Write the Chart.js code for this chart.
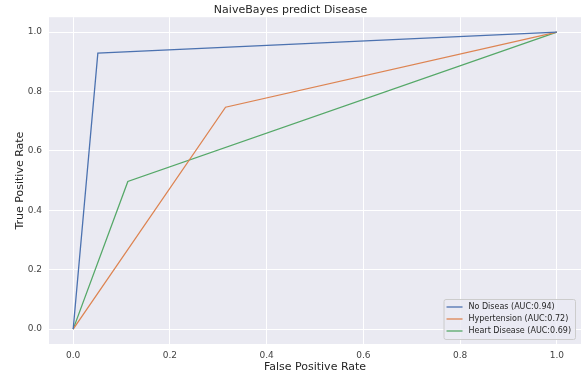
<!DOCTYPE html>
<html>
<head>
<meta charset="utf-8">
<script src="https://cdn.jsdelivr.net/npm/chart.js@4.4.0/dist/chart.umd.min.js"></script>
<style>
    html, body { margin: 0; padding: 0; background: #ffffff; }
    #wrap { width: 581px; height: 378px; }
</style>
</head>
<body>
<div id="wrap"><canvas id="rocChart" width="581" height="378"></canvas></div>
<script>
// ROC curves
const seriesNames = ['No Diseas (AUC:0.94)', 'Hypertension (AUC:0.72)', 'Heart Disease (AUC:0.69)'];
const noDiseaseFpr = [0, 0.051, 1];
const noDiseaseTpr = [0, 0.929, 1];
const hypertensionFpr = [0, 0.315, 1];
const hypertensionTpr = [0, 0.747, 1];
const heartFpr = [0, 0.113, 1];
const heartTpr = [0, 0.497, 1];
const xTicks = [0, 0.2, 0.4, 0.6, 0.8, 1.0];
const yTicks = [0, 0.2, 0.4, 0.6, 0.8, 1.0];

const colors = ['#4c72b0', '#dd8452', '#55a868'];
const font = 'DejaVu Sans';

function toPoints(xs, ys) {
    return xs.map((x, i) => ({ x: x, y: ys[i] }));
}

// grey seaborn panel behind the grid
const panelBg = {
    id: 'panelBg',
    beforeDraw(chart) {
        const a = chart.chartArea;
        const ctx = chart.ctx;
        ctx.save();
        ctx.fillStyle = '#eaeaf2';
        ctx.fillRect(a.left, a.top, a.right - a.left, a.bottom - a.top);
        ctx.restore();
    }
};

// matplotlib style legend in the lower right corner of the plot
const cornerLegend = {
    id: 'cornerLegend',
    afterDraw(chart) {
        const ctx = chart.ctx;
        const a = chart.chartArea;
        ctx.save();
        ctx.font = '8px "' + font + '"';
        const names = chart.data.datasets.map(d => d.label);
        const textW = Math.max(...names.map(n => ctx.measureText(n).width));
        const rowH = 12;
        const w = 2 + 17 + 6 + textW + 4;
        const h = names.length * rowH + 4;
        const x = a.right - 6 - w;
        const y = a.bottom - 5 - h;
        ctx.fillStyle = 'rgba(234,234,242,0.8)';
        ctx.strokeStyle = '#cccccc';
        ctx.lineWidth = 1;
        ctx.beginPath();
        ctx.roundRect(x + 0.5, y + 0.5, w, h, 2);
        ctx.fill();
        ctx.stroke();
        names.forEach((n, i) => {
            const cy = y + 2 + rowH * i + rowH / 2;
            ctx.strokeStyle = chart.data.datasets[i].borderColor;
            ctx.lineWidth = 1.3;
            ctx.beginPath();
            ctx.moveTo(x + 3, cy);
            ctx.lineTo(x + 19, cy);
            ctx.stroke();
            ctx.fillStyle = '#262626';
            ctx.textBaseline = 'middle';
            ctx.fillText(n, x + 25, cy);
        });
        ctx.restore();
    }
};

const ctx = document.getElementById('rocChart').getContext('2d');
new Chart(ctx, {
    type: 'scatter',
    data: {
        datasets: [
            {
                label: seriesNames[0],
                data: toPoints(noDiseaseFpr, noDiseaseTpr),
                borderColor: colors[0],
            },
            {
                label: seriesNames[1],
                data: toPoints(hypertensionFpr, hypertensionTpr),
                borderColor: colors[1],
            },
            {
                label: seriesNames[2],
                data: toPoints(heartFpr, heartTpr),
                borderColor: colors[2],
            }
        ].map(d => Object.assign(d, {
            showLine: true,
            borderWidth: 1.3,
            pointRadius: 0,
            tension: 0,
            backgroundColor: d.borderColor
        }))
    },
    options: {
        responsive: false,
        animation: false,
        layout: { padding: { left: 0, right: 0, top: 0, bottom: 0 } },
        plugins: {
            legend: { display: false },
            tooltip: { enabled: false },
            title: {
                display: true,
                text: 'NaiveBayes predict Disease',
                color: '#262626',
                font: { family: font, size: 11, weight: 'normal' },
                padding: { top: 4, bottom: 0 }
            }
        },
        scales: {
            x: {
                type: 'linear',
                min: -0.05,
                max: 1.05,
                afterBuildTicks: s => { s.ticks = xTicks.map(v => ({ value: v })); },
                afterFit: s => { s.height = 34; },
                grid: { color: '#ffffff', lineWidth: 1, drawTicks: false },
                border: { display: false },
                ticks: {
                    color: '#444444',
                    padding: 6,
                    font: { family: font, size: 9 },
                    callback: v => v.toFixed(1)
                },
                title: {
                    display: true,
                    text: 'False Positive Rate',
                    color: '#262626',
                    font: { family: font, size: 11 },
                    padding: { top: 0, bottom: 4 }
                }
            },
            y: {
                type: 'linear',
                min: -0.05,
                max: 1.05,
                afterBuildTicks: s => { s.ticks = yTicks.map(v => ({ value: v })); },
                afterFit: s => { s.width = 49; },
                grid: { color: '#ffffff', lineWidth: 1, drawTicks: false },
                border: { display: false },
                ticks: {
                    color: '#444444',
                    padding: 7,
                    font: { family: font, size: 9 },
                    callback: v => v.toFixed(1)
                },
                title: {
                    display: true,
                    text: 'True Positive Rate',
                    color: '#262626',
                    font: { family: font, size: 11 },
                    padding: { top: 14, bottom: 0 }
                }
            }
        }
    },
    plugins: [panelBg, cornerLegend]
});
</script>
</body>
</html>
